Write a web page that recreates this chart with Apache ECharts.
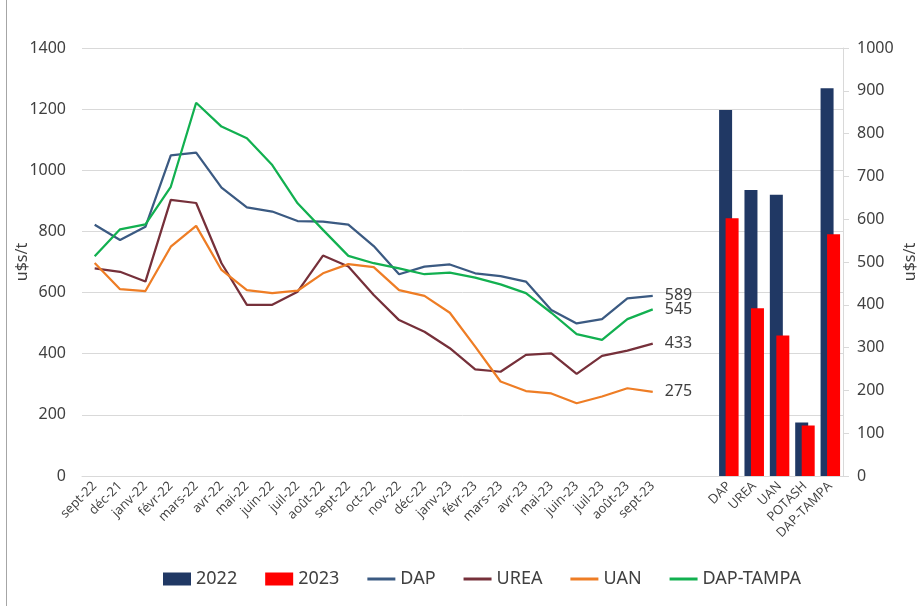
<!DOCTYPE html>
<html>
<head>
<meta charset="utf-8">
<script src="https://cdn.jsdelivr.net/npm/echarts@6/dist/echarts.min.js"></script>
<style>
  html, body { margin: 0; padding: 0; background: #fff; }
  #chart { width: 919px; height: 606px; }
</style>
</head>
<body>
<div id="chart"></div>
<script>
// mois (axe gauche, lignes)
const months = ['sept-22', 'déc-21', 'janv-22', 'févr-22', 'mars-22', 'avr-22', 'mai-22', 'juin-22',
  'juil-22', 'août-22', 'sept-22', 'oct-22', 'nov-22', 'déc-22', 'janv-23', 'févr-23', 'mars-23',
  'avr-23', 'mai-23', 'juin-23', 'juil-23', 'août-23', 'sept-23']
const dap = [822, 772, 815, 1049, 1058, 943, 879, 865, 834, 832, 822, 752, 660, 685, 692, 663, 654, 636, 543, 499, 513, 581, 589]
const urea = [679, 668, 636, 903, 893, 696, 560, 560, 603, 721, 685, 592, 510, 472, 418, 349, 341, 396, 401, 334, 393, 410, 433]
const uan = [697, 611, 605, 750, 818, 674, 608, 598, 606, 663, 693, 683, 608, 589, 534, 423, 309, 278, 270, 238, 260, 287, 275]
const dapTampa = [719, 807, 823, 946, 1221, 1143, 1105, 1017, 892, 805, 720, 696, 679, 660, 665, 649, 627, 598, 534, 464, 445, 513, 545]

// produits (axe droit, barres)
const products = ['DAP', 'UREA', 'UAN', 'POTASH', 'DAP-TAMPA']
const bars2022 = [855, 668, 657, 125, 906]
const bars2023 = [602, 392, 328, 118, 565]

const gapCats = ['', '']
const categories = months.concat(gapCats, products)
const padBars = (vals) => months.map(() => null).concat(gapCats.map(() => null), vals)

const txt = '#404040'
const font = 'Noto Sans'
// icône de légende : trait fin
const lineIcon = 'path://M0,0 L28,0 L28,3 L0,3 Z'

const chart = echarts.init(document.getElementById('chart'))

const lineSeries = (name, data, color) => ({
  name,
  type: 'line',
  yAxisIndex: 0,
  data,
  symbol: 'none',
  lineStyle: { color, width: 2.25 },
  itemStyle: { color },
  endLabel: {
    show: true,
    formatter: p => p.value,
    color: txt,
    fontSize: 16,
    fontFamily: font,
    distance: 12
  },
  z: 3
})

chart.setOption({
  animation: false,
  grid: { left: 82, right: 76, top: 48, bottom: 130, outerBoundsMode: 'none', containLabel: false },
  legend: {
    bottom: 13,
    left: 158,
    itemWidth: 28,
    itemHeight: 13,
    itemGap: 28,
    textStyle: { color: txt, fontSize: 18, fontFamily: font },
    data: [
      { name: '2022', icon: 'rect' },
      { name: '2023', icon: 'rect' },
      { name: 'DAP', icon: lineIcon },
      { name: 'UREA', icon: lineIcon },
      { name: 'UAN', icon: lineIcon },
      { name: 'DAP-TAMPA', icon: lineIcon }
    ]
  },
  xAxis: {
    type: 'category',
    data: categories,
    axisLine: { lineStyle: { color: '#d9d9d9' } },
    axisTick: { show: false },
    axisLabel: {
      interval: 0,
      rotate: 45,
      color: txt,
      fontSize: 13,
      fontFamily: 'Open Sans',
      margin: 8
    }
  },
  yAxis: [
    {
      type: 'value',
      min: 0, max: 1400, interval: 200,
      name: 'u$s/t',
      nameLocation: 'middle',
      nameRotate: 90,
      nameGap: 52,
      nameMoveOverlap: false,
      nameTextStyle: { color: txt, fontSize: 16, fontFamily: font },
      axisLine: { show: false },
      axisTick: { show: false },
      axisLabel: { color: txt, fontSize: 16, fontFamily: font, margin: 16, formatter: v => String(v) },
      splitLine: { lineStyle: { color: '#d9d9d9' } }
    },
    {
      type: 'value',
      position: 'right',
      min: 0, max: 1000, interval: 100,
      name: 'u$s/t',
      nameLocation: 'middle',
      nameRotate: 90,
      nameGap: 59,
      nameMoveOverlap: false,
      nameTextStyle: { color: txt, fontSize: 16, fontFamily: font },
      axisLine: { show: true, lineStyle: { color: '#d9d9d9' } },
      axisTick: { show: true, length: 6, lineStyle: { color: '#d9d9d9' } },
      axisLabel: { color: txt, fontSize: 16, fontFamily: font, margin: 14, formatter: v => String(v) },
      splitLine: { show: false }
    }
  ],
  series: [
    {
      name: '2022',
      type: 'bar',
      yAxisIndex: 1,
      data: padBars(bars2022),
      barWidth: 13,
      barGap: '-50%',
      itemStyle: { color: '#203864' }
    },
    {
      name: '2023',
      type: 'bar',
      yAxisIndex: 1,
      data: padBars(bars2023),
      barWidth: 13,
      barGap: '-50%',
      itemStyle: { color: '#ff0000' }
    },
    lineSeries('DAP', dap, '#3b5a82'),
    lineSeries('UREA', urea, '#76303a'),
    lineSeries('UAN', uan, '#ee7d25'),
    lineSeries('DAP-TAMPA', dapTampa, '#12b050')
  ],
  graphic: [
    { type: 'line', shape: { x1: 6.5, y1: 0, x2: 6.5, y2: 606 }, style: { stroke: '#a6a6a6', lineWidth: 1 } }
  ]
})
</script>
</body>
</html>
